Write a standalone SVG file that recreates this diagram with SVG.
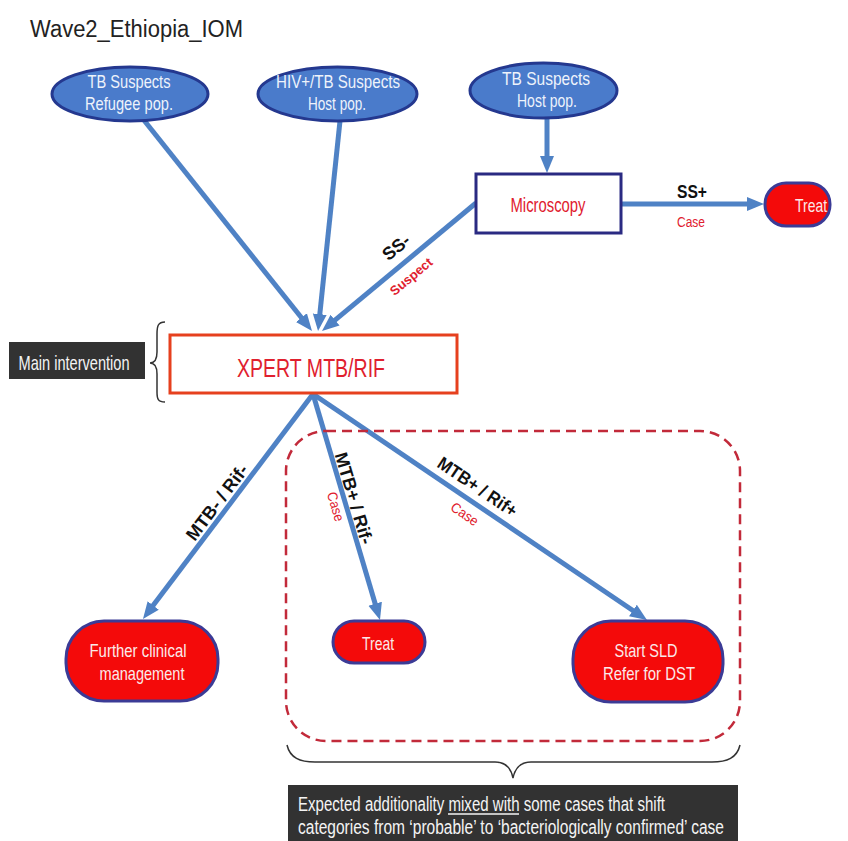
<svg xmlns="http://www.w3.org/2000/svg" width="848" height="841" viewBox="0 0 848 841">
<style>
  text { font-family: "Liberation Sans", Arial, sans-serif; }
  .ell { fill: #4a7bcb; stroke: #24388f; stroke-width: 3; }
  .ellt { fill: #eef3fb; font-size: 19px; text-anchor: middle; }
  .pill { fill: #f40a0a; stroke: #3b3b96; stroke-width: 3; }
  .pillt { fill: #fbe9e9; font-size: 19px; text-anchor: middle; }
  .conn { stroke: #4f82c5; stroke-width: 5; fill: none; marker-end: url(#ah); }
  .lbl { fill: #111; font-size: 18px; font-weight: bold; text-anchor: middle; }
  .red { fill: #e0202e; text-anchor: middle; }
  .dark { fill: #323232; }
  .wt { fill: #f4f4f4; }
  .brace { fill: none; stroke: #333; stroke-width: 1.5; }
</style>
<defs>
  <marker id="ah" markerUnits="userSpaceOnUse" markerWidth="20" markerHeight="16" viewBox="0 -8 20 16" refX="4" refY="0" orient="auto">
    <path d="M0,-7 L17,0 L0,7 z" fill="#4f82c5"/>
  </marker>
</defs>

<text x="30" y="37" font-size="23" fill="#222" textLength="213" lengthAdjust="spacingAndGlyphs">Wave2_Ethiopia_IOM</text>

<g id="connectors">
  <line class="conn" x1="143" y1="119" x2="303.9" y2="320.8"/>
  <line class="conn" x1="340" y1="121" x2="319.4" y2="318.1"/>
  <line class="conn" x1="476" y1="203" x2="332" y2="322.7"/>
  <line class="conn" x1="547" y1="118" x2="547" y2="160"/>
  <line class="conn" x1="621" y1="204" x2="751" y2="204"/>
  <line class="conn" x1="313" y1="394" x2="150.8" y2="608.6"/>
  <line class="conn" x1="313" y1="394" x2="376.3" y2="607.5"/>
  <line class="conn" x1="313" y1="394" x2="636.2" y2="612.7"/>
  <text class="lbl" font-size="15" transform="translate(400,252) rotate(-39.7)">SS-</text>
  <text class="red" font-size="13" font-weight="bold" transform="translate(414,280) rotate(-39.7)">Suspect</text>
  <text class="lbl" font-size="15" x="692" y="198" textLength="30" lengthAdjust="spacingAndGlyphs">SS+</text>
  <text class="red" font-size="14" x="691" y="227" textLength="28" lengthAdjust="spacingAndGlyphs">Case</text>
  <text class="lbl" transform="translate(222,506) rotate(-52.9)" textLength="90" lengthAdjust="spacingAndGlyphs">MTB- / Rif-</text>
  <text class="lbl" transform="translate(348,500) rotate(73.5)" textLength="95" lengthAdjust="spacingAndGlyphs">MTB+ / Rif-</text>
  <text class="red" font-size="14" transform="translate(331,508) rotate(73.5)" textLength="30" lengthAdjust="spacingAndGlyphs">Case</text>
  <text class="lbl" transform="translate(474,492) rotate(34.1)" textLength="92" lengthAdjust="spacingAndGlyphs">MTB+ / Rif+</text>
  <text class="red" font-size="14" transform="translate(462,518) rotate(34.1)" textLength="30" lengthAdjust="spacingAndGlyphs">Case</text>
</g>

<g id="e1">
  <ellipse class="ell" cx="130" cy="94" rx="78" ry="27"/>
  <text class="ellt" x="129" y="88" textLength="83" lengthAdjust="spacingAndGlyphs">TB Suspects</text>
  <text class="ellt" x="129" y="110" textLength="88" lengthAdjust="spacingAndGlyphs">Refugee pop.</text>
</g>
<g id="e2">
  <ellipse class="ell" cx="337.5" cy="94" rx="79.5" ry="27"/>
  <text class="ellt" x="338" y="88" textLength="124" lengthAdjust="spacingAndGlyphs">HIV+/TB Suspects</text>
  <text class="ellt" x="337" y="110" textLength="58" lengthAdjust="spacingAndGlyphs">Host pop.</text>
</g>
<g id="e3">
  <ellipse class="ell" cx="543.5" cy="90.5" rx="73.5" ry="27.5"/>
  <text class="ellt" x="546" y="85" textLength="88" lengthAdjust="spacingAndGlyphs">TB Suspects</text>
  <text class="ellt" x="547" y="107" textLength="60" lengthAdjust="spacingAndGlyphs">Host pop.</text>
</g>

<g id="microscopy">
  <rect x="476" y="174" width="145" height="59" fill="#fff" stroke="#2a2a82" stroke-width="3"/>
  <text class="red" x="548" y="212" font-size="21" textLength="75" lengthAdjust="spacingAndGlyphs">Microscopy</text>
</g>
<g id="treat1">
  <rect class="pill" x="765" y="183" width="65" height="43" rx="21"/>
  <text class="pillt" x="811" y="212" font-size="20" textLength="32" lengthAdjust="spacingAndGlyphs">Treat</text>
</g>

<g id="main-intervention">
  <rect class="dark" x="9" y="342" width="136" height="37"/>
  <text class="wt" x="74" y="370" font-size="21" text-anchor="middle" textLength="111" lengthAdjust="spacingAndGlyphs">Main intervention</text>
  <path class="brace" d="M165,322 C158,322 157,326 157,334 L157,352 C157,359 155,363 150,363 C155,363 157,367 157,374 L157,392 C157,399 158,402 165,402"/>
</g>

<g id="xpert">
  <rect x="170" y="335" width="287" height="58" fill="#fff" stroke="#e6401e" stroke-width="3"/>
  <text class="red" x="311" y="377" font-size="25" textLength="148" lengthAdjust="spacingAndGlyphs">XPERT MTB/RIF</text>
</g>

<g id="further">
  <rect class="pill" x="66" y="621" width="152" height="80" rx="38"/>
  <text class="pillt" x="138" y="657" textLength="97" lengthAdjust="spacingAndGlyphs">Further clinical</text>
  <text class="pillt" x="142" y="680" textLength="85" lengthAdjust="spacingAndGlyphs">management</text>
</g>
<g id="treat2">
  <rect class="pill" x="333" y="621" width="92" height="42" rx="21"/>
  <text class="pillt" x="378" y="650" textLength="32" lengthAdjust="spacingAndGlyphs">Treat</text>
</g>
<g id="startsld">
  <rect class="pill" x="573" y="621" width="150" height="81" rx="38"/>
  <text class="pillt" x="646" y="657" textLength="63" lengthAdjust="spacingAndGlyphs">Start SLD</text>
  <text class="pillt" x="649" y="680" textLength="92" lengthAdjust="spacingAndGlyphs">Refer for DST</text>
</g>

<g id="group-box">
  <rect x="286" y="431" width="454" height="310" rx="40" fill="none" stroke="#c22a3a" stroke-width="2.5" stroke-dasharray="10 6"/>
  <path class="brace" d="M287,745 C290,758 300,762 315,762 L495,762 C506,762 511,768 513,778 C515,768 520,762 531,762 L712,762 C727,762 737,758 740,745"/>
</g>

<g id="note">
  <rect class="dark" x="288" y="785" width="450" height="56"/>
  <text class="wt" x="298" y="811" font-size="20" textLength="367" lengthAdjust="spacingAndGlyphs">Expected additionality mixed with some cases that shift</text>
  <line x1="448" y1="814" x2="519" y2="814" stroke="#f4f4f4" stroke-width="1.3"/>
  <text class="wt" x="298" y="834" font-size="20" textLength="426" lengthAdjust="spacingAndGlyphs">categories from ‘probable’ to ‘bacteriologically confirmed’ case</text>
</g>
</svg>
